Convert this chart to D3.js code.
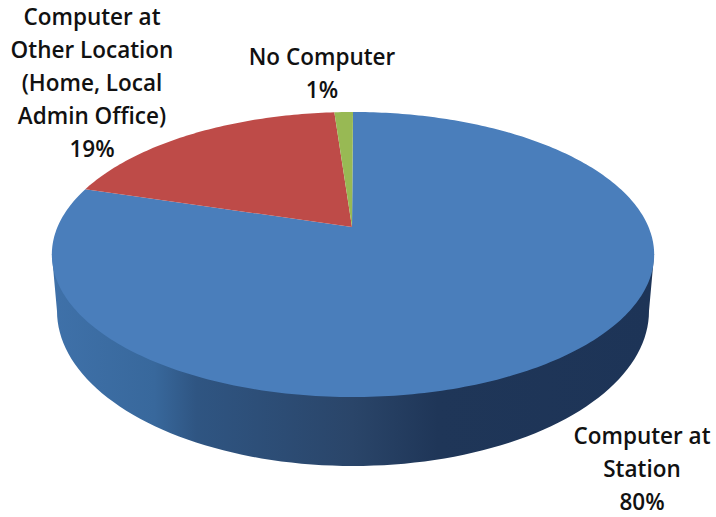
<!DOCTYPE html>
<html><head><meta charset="utf-8">
<script src="https://cdn.jsdelivr.net/npm/d3@7/dist/d3.min.js"></script>
<style>html,body{margin:0;padding:0;background:#fff}svg{display:block}</style></head>
<body><svg id="c" width="716" height="517"></svg>
<script>
// Data
const categories = ["Computer at Station", "Computer at Other Location (Home, Local Admin Office)", "No Computer"];
const values = [79.7, 19.1, 1.2];
const percentLabels = ["80%", "19%", "1%"];
const labelLines = [["Computer at", "Station"], ["Computer at", "Other Location", "(Home, Local", "Admin Office)"], ["No Computer"]];
const colors = ["#4a7ebb", "#be4b48", "#98b954"];
const labelAnchors = [[642, 444], [92, 25], [322, 65]];
const sideStops = [[0, "#3f71a9"], [.17, "#38689c"], [.24, "#2f5582"], [.5, "#2a4569"], [.64, "#1f3658"], [1, "#1d3457"]];

// Geometry of the tilted disc: a projective view of the unit circle
const cx = 353, apexY = 227, scaleX = 295.5, scaleY = 137.2, persp = -0.193;
const project = a => {
  const x = Math.sin(a), y = -Math.cos(a), w = 1 + persp * y;
  return [cx + scaleX * x / w, apexY + scaleY * y / w];
};
const base = {cx: 353, cy: 311, rx: 296, ry: 155};
const svg = d3.select("#c");
const line = d3.line();

// gradient of the side wall
const grad = svg.append("defs").append("linearGradient")
  .attr("id", "side").attr("gradientUnits", "userSpaceOnUse")
  .attr("x1", 52).attr("x2", 654).attr("y1", 0).attr("y2", 0);
sideStops.forEach(s => grad.append("stop").attr("offset", s[0]).attr("stop-color", s[1]));

// side wall
const sweep = d3.range(0, 181, 2).map(t => {
  const r = t * Math.PI / 180;
  return [base.cx + base.rx * Math.cos(r), base.cy + base.ry * Math.sin(r)];
});
const wall = [project(Math.PI * 0.5 + 0.19), ...sweep, project(Math.PI * 1.5 - 0.19)];
svg.append("path").attr("d", line(wall) + "Z").attr("fill", "url(#side)");

// top slices
const pie = d3.pie().sort(null).value(d => d)(values);
svg.append("g").selectAll("path").data(pie).join("path")
  .attr("d", d => {
    const n = Math.max(4, Math.ceil((d.endAngle - d.startAngle) * 60));
    const pts = d3.range(n + 1).map(i => project(d.startAngle + (d.endAngle - d.startAngle) * i / n));
    return line([[cx - 1, apexY], ...pts]) + "Z";
  })
  .attr("fill", (d, i) => colors[i]);

// labels
const lh = 33;
const g = svg.append("g").attr("font-family", "'Open Sans', Lato, sans-serif")
  .attr("font-weight", 600).attr("font-size", 22.5).attr("fill", "#111").attr("text-anchor", "middle");
categories.forEach((c, i) => {
  const lines = [...labelLines[i], percentLabels[i]];
  g.selectAll(null).data(lines).join("text")
    .attr("x", labelAnchors[i][0])
    .attr("y", (d, k) => labelAnchors[i][1] + k * lh)
    .text(d => d);
});
</script></body></html>
